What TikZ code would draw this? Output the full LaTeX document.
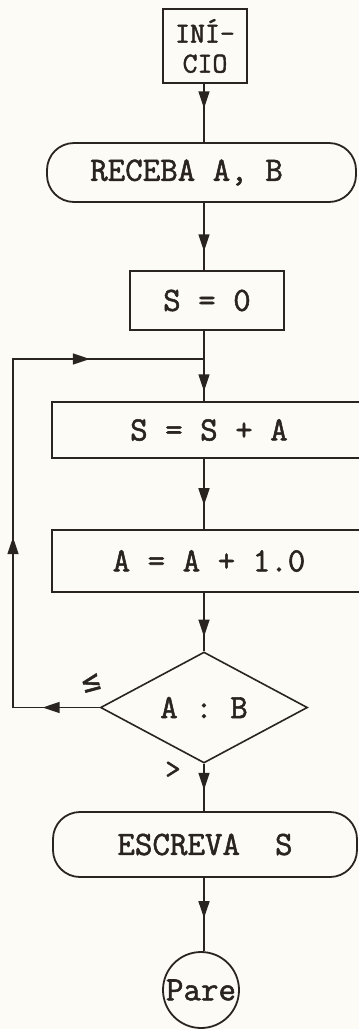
\documentclass[tikz,border=0pt]{standalone}
\usepackage{fontspec}
\setmonofont{Latin Modern Mono}[AutoFakeBold=1.6]
\newfontfamily\symf{DejaVu Sans Mono}[AutoFakeBold=1.5]
\usetikzlibrary{arrows.meta,shapes.geometric,decorations.markings}
\definecolor{ink}{RGB}{42,36,32}
\definecolor{paper}{RGB}{253,251,246}
\tikzset{
  Tri/.tip={Triangle[length=17pt,width=11pt]},
  txt/.style={font=\fontsize{34}{36}\selectfont\ttfamily\bfseries, text=ink},
  box/.style={txt, draw=ink, line width=1.8pt, rectangle, inner sep=0pt},
  term/.style={box, rounded corners=27pt},
  dia/.style={txt, draw=ink, line width=1.6pt, diamond, inner sep=0pt, minimum width=207pt, minimum height=111pt},
  conn/.style={draw=ink, line width=1.5pt},
  midarr/.style={conn, postaction={decorate, decoration={markings, mark=at position #1 with {\arrow[ink]{Tri}}}}},
  lbl/.style={text=ink, inner sep=0pt}
}
\begin{document}
\begin{tikzpicture}[x=1pt,y=-1pt]
\fill[paper] (0,0) rectangle (359,1029);
\useasboundingbox (0,0) rectangle (359,1029);
\coordinate (ax) at (204,0);
% nodes
\node[box, minimum width=84pt, minimum height=74pt, align=center, font=\fontsize{29}{30}\selectfont\ttfamily\bfseries] (ini) at (205,46) {INÍ-\\CIO};
\node[term, minimum width=309pt, minimum height=59pt] (rec) at (201.5,172.5) {RECEBA A, B\hspace*{30pt}};
\node[box, minimum width=154pt, minimum height=59pt] (s0) at (207,300.5) {S = 0};
\node[box, minimum width=314pt, minimum height=56pt] (ssa) at (209,430) {S = S + A};
\node[box, minimum width=314pt, minimum height=62pt] (aa) at (209,561) {A = A + 1.0};
\node[dia] (dec) at (204,707.5) {A : B};
\node[term, minimum width=304pt, minimum height=65pt] (esc) at (205,844.5) {ESCREVA~~S};
\node[box, circle, minimum size=76pt] (pare) at (201,990) {Pare};
% labels
\node[lbl, font=\fontsize{30}{30}\selectfont\symf\bfseries, rotate=15] (le) at (91,683) {≤};
\node[lbl, font=\fontsize{30}{30}\selectfont\ttfamily\bfseries] (gt) at (173,770) {>};
% connectors
\coordinate (join) at (204,359);
\coordinate (lb) at (13,707.5);
\coordinate (lt) at (13,359);
\draw[midarr=0.42] (ax |- ini.south) -- (ax |- rec.north);
\draw[midarr=0.72] (ax |- rec.south) -- (ax |- s0.north);
\draw[midarr=0.86] (ax |- s0.south) -- (ax |- ssa.north);
\draw[midarr=0.66] (ax |- ssa.south) -- (ax |- aa.north);
\draw[midarr=0.75] (ax |- aa.south) -- (dec.north);
\draw[midarr=0.55] (dec.south) -- (dec.south |- esc.north);
\draw[midarr=0.55] (ax |- esc.south) -- (ax |- pare.north);
\draw[conn, postaction={decorate, decoration={markings,
    mark=at position 57pt with {\arrow[ink]{Tri}},
    mark=at position 257pt with {\arrow[ink]{Tri}},
    mark=at position 512pt with {\arrow[ink]{Tri}}}}]
  (dec.west) -- (lb) -- (lt) -- (join);
\end{tikzpicture}
\end{document}
